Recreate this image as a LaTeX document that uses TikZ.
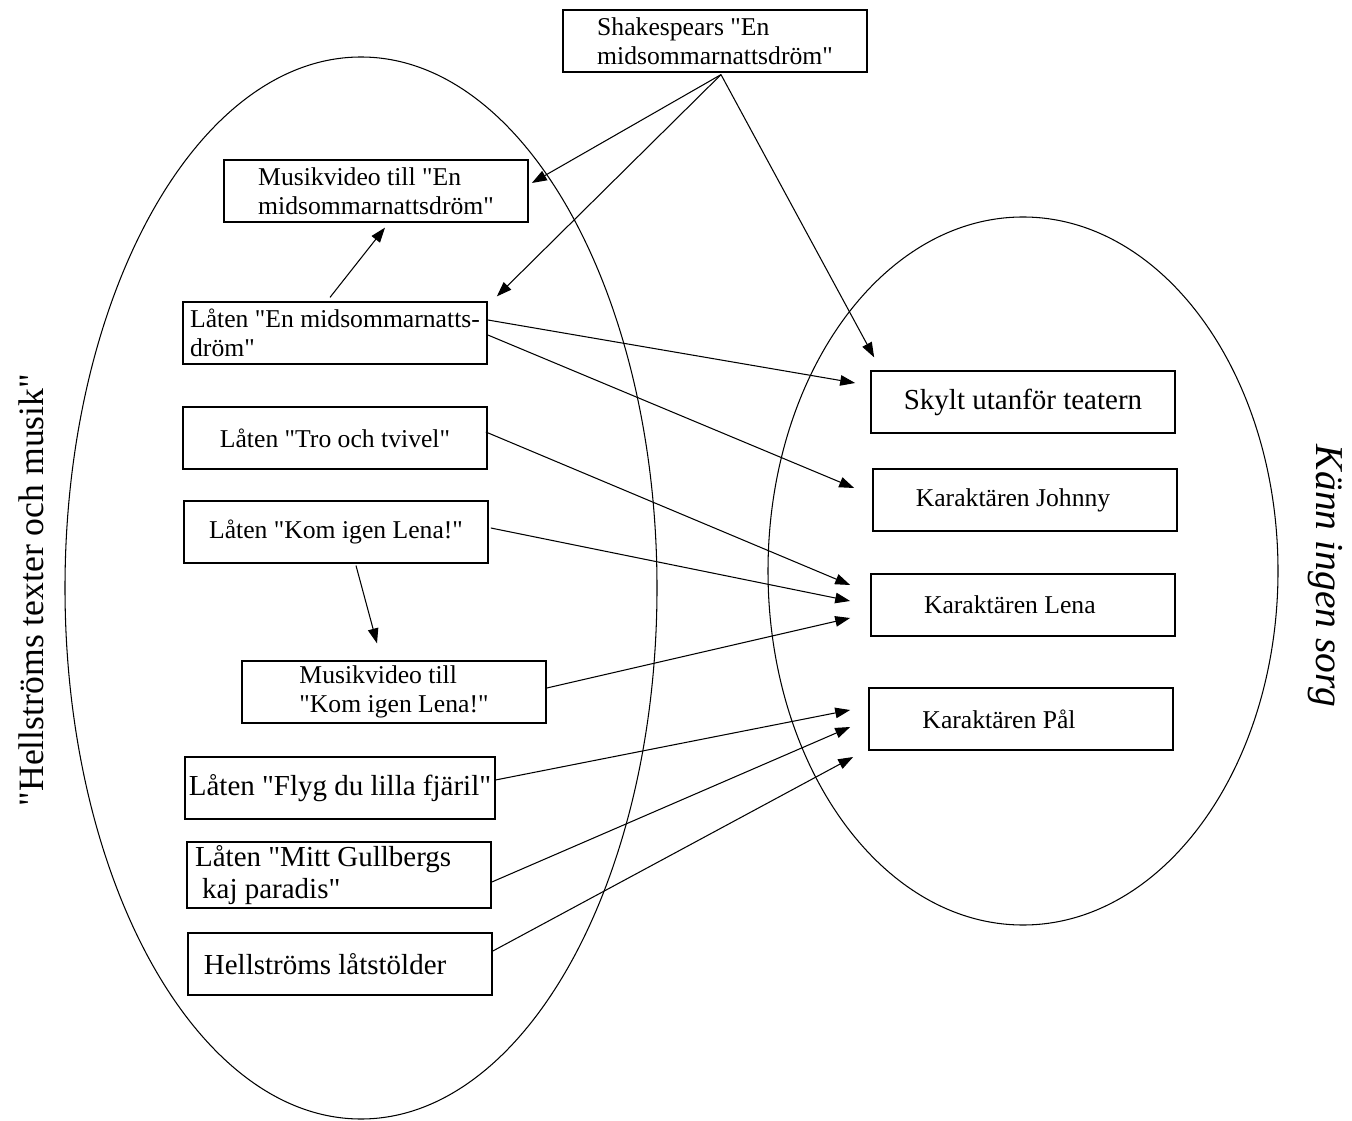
\documentclass[tikz,border=0pt]{standalone}
\usepackage{fontspec}
\setmainfont{Liberation Serif}[Ligatures=TeXOff]
\usetikzlibrary{arrows.meta}

\begin{document}
\begin{tikzpicture}[
    x=0.02cm, y=-0.02cm,
    box/.style={draw, line width=1pt, minimum width=173pt, minimum height=35pt, inner sep=2pt, align=left, font=\fontsize{14.6}{16.4}\selectfont},
    bigbox/.style={box, font=\fontsize{16.5}{18.5}\selectfont},
    tshift/.style={execute at end node={\hspace*{#1}}},
    arr/.style={-{Triangle[length=8.5pt,width=6pt]}, line width=0.6pt}
]

    \useasboundingbox (0,0) rectangle (1352,1121);

    \draw[line width=0.6pt] (361,588) ellipse [x radius=296, y radius=531];
    \draw[line width=0.6pt] (1023,571) ellipse [x radius=255, y radius=354];

    \node[rotate=90, font=\fontsize{20.3}{24}\selectfont] (hellmusik) at (31,590) {"Hellströms texter och musik"};
    \node[rotate=-90, font=\fontsize{22.5}{26}\selectfont\itshape] (kann) at (1325,576) {Känn ingen sorg};

    \node[box] (shakes) at (715,41) {Shakespears "En\\midsommarnattsdröm"};

    \node[box] (mv1) at (376,191) {Musikvideo till "En\\midsommarnattsdröm"};
    \node[box] (lat1) at (335,333) {Låten "En midsommarnatts-\\dröm"};
    \node[box] (tro) at (335,438) {Låten "Tro och tvivel"};
    \node[box] (kom) at (336,532) {Låten "Kom igen Lena!"};
    \node[box] (mv2) at (394,692) {Musikvideo till\\"Kom igen Lena!"};
    \node[bigbox] (flyg) at (340,788) {Låten "Flyg du lilla fjäril"};
    \node[bigbox] (mitt) at (339,875) {Låten "Mitt Gullbergs\hspace*{18pt}\\\hspace{4pt}kaj paradis"};
    \node[bigbox, tshift=17pt] (hell) at (340,964) {Hellströms låtstölder};

    \node[bigbox] (skylt) at (1023,402) {Skylt utanför teatern};
    \node[box, tshift=13.6pt] (johnny) at (1025,500) {Karaktären Johnny};
    \node[box, tshift=15pt] (lena) at (1023,605) {Karaktären Lena};
    \node[box, tshift=25pt] (pal) at (1021,719) {Karaktären Pål};

    \draw[arr] ([shift={(6,2)}]shakes.south) -- ([shift={(3,-8)}]mv1.east);
    \draw[arr] ([shift={(6,2)}]shakes.south) -- ([shift={(9,-5)}]lat1.north east);
    \draw[arr] ([shift={(6,2)}]shakes.south) -- ([shift={(4,-13)}]skylt.north west);

    \draw[arr] ([shift={(-5,-4)}]lat1.north) -- ([shift={(9,5)}]mv1.south);
    \draw[arr] ([shift={(0,-13)}]lat1.east) -- ([shift={(-15,-19)}]skylt.west);
    \draw[arr] ([shift={(0,2)}]lat1.east) -- ([shift={(-18,-12)}]johnny.west);

    \draw[arr] ([shift={(-2,-6)}]tro.east) -- ([shift={(-20,-20)}]lena.west);
    \draw[arr] ([shift={(2,-4)}]kom.east) -- ([shift={(-20,-4)}]lena.west);
    \draw[arr] ([shift={(20,2)}]kom.south) -- ([shift={(-17,-17)}]mv2.north);
    \draw[arr] ([shift={(0,-4)}]mv2.east) -- ([shift={(-20,13)}]lena.west);

    \draw[arr] ([shift={(0,-8)}]flyg.east) -- ([shift={(-18,-9)}]pal.west);
    \draw[arr] ([shift={(0,7)}]mitt.east) -- ([shift={(-18,8)}]pal.west);
    \draw[arr] ([shift={(0,-13)}]hell.east) -- ([shift={(-15,38)}]pal.west);

\end{tikzpicture}
\end{document}
